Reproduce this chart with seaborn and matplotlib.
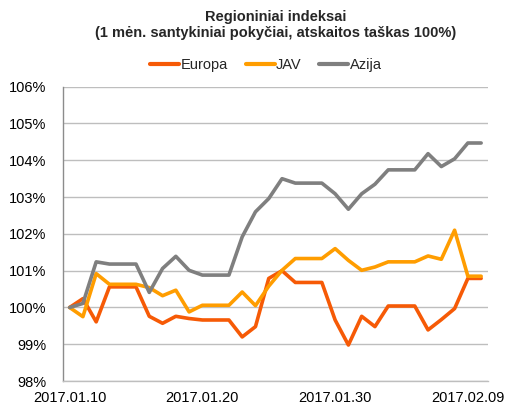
import pandas as pd
import seaborn as sns
import matplotlib
matplotlib.use('Agg')
import matplotlib.pyplot as plt
from matplotlib.ticker import FuncFormatter

# values (index, start = 100%)
europa = [100.0, 100.24, 99.61, 100.56, 100.56, 100.56, 99.76, 99.57, 99.76, 99.70,
          99.66, 99.66, 99.66, 99.20, 99.48, 100.79, 101.00, 100.68, 100.68, 100.68,
          99.66, 98.98, 99.76, 99.48, 100.04, 100.04, 100.04, 99.39, 99.67, 99.97,
          100.79, 100.79]
jav = [100.0, 99.75, 100.92, 100.63, 100.63, 100.63, 100.54, 100.32, 100.47, 99.88,
       100.06, 100.06, 100.06, 100.42, 100.05, 100.58, 101.01, 101.33, 101.33, 101.33,
       101.60, 101.28, 101.01, 101.10, 101.24, 101.24, 101.24, 101.40, 101.31, 102.10,
       100.85, 100.85]
azija = [100.0, 100.11, 101.24, 101.18, 101.18, 101.18, 100.41, 101.06, 101.39, 101.01,
         100.88, 100.88, 100.88, 101.92, 102.60, 102.96, 103.50, 103.38, 103.38, 103.38,
         103.09, 102.67, 103.09, 103.35, 103.74, 103.74, 103.74, 104.18, 103.83, 104.04,
         104.47, 104.47]
x_labels = {0: "2017.01.10", 10: "2017.01.20", 20: "2017.01.30", 30: "2017.02.09"}
series_names = ["Europa", "JAV", "Azija"]
colors = ["#F65A06", "#FF9D00", "#7F7F7F"]

sns.set_theme(style="white")
plt.rcParams['font.family'] = ['Liberation Sans', 'DejaVu Sans']

frames = []
for name, vals in zip(series_names, [europa, jav, azija]):
    frames.append(pd.DataFrame({"i": range(len(vals)), "value": vals, "region": name}))
df = pd.concat(frames, ignore_index=True)

fig = plt.figure(figsize=(5.06, 4.08), dpi=100)
ax = fig.add_axes([0.1245, 0.066, 0.8395, 0.7215])

sns.lineplot(data=df, x="i", y="value", hue="region", hue_order=series_names,
             palette=colors, linewidth=2.6, ax=ax, legend=True)

ax.set_xlim(-0.5, len(europa) - 0.5)
ax.set_ylim(98, 106)
ax.set_yticks(range(98, 107))
ax.yaxis.set_major_formatter(FuncFormatter(lambda v, p: f"{v:.0f}%"))
ax.set_xticks(list(x_labels.keys()))
ax.set_xticklabels(list(x_labels.values()))
ax.tick_params(axis="y", length=0, pad=12, labelsize=10.5, colors="black")
ax.tick_params(axis="x", length=0, pad=7, labelsize=10.5, colors="black")
ax.set_xlabel("")
ax.set_ylabel("")

ax.grid(axis="y", color="#BEBEBE", linewidth=1)
ax.set_axisbelow(True)
for side in ["top", "right"]:
    ax.spines[side].set_visible(False)
ax.spines["left"].set_color("#8C8C8C")
ax.spines["bottom"].set_color("#BEBEBE")
ax.spines["left"].set_linewidth(1)
ax.spines["bottom"].set_linewidth(1)

handles, labels = ax.get_legend_handles_labels()
for h in handles:
    h.set_linewidth(3)
ax.legend(handles, labels, loc="center", bbox_to_anchor=(0.478, 1.075), ncol=3,
          frameon=False, fontsize=10.5, handlelength=2.0, handletextpad=0.1,
          columnspacing=1.2, borderaxespad=0)

fig.text(0.5445, 0.958, "Regioniniai indeksai", ha="center", va="center",
         fontsize=10.5, fontweight="bold")
fig.text(0.5445, 0.918, "(1 mėn. santykiniai pokyčiai, atskaitos taškas 100%)",
         ha="center", va="center", fontsize=10.5, fontweight="bold")

plt.savefig("out.png", dpi=100)
plt.close()
